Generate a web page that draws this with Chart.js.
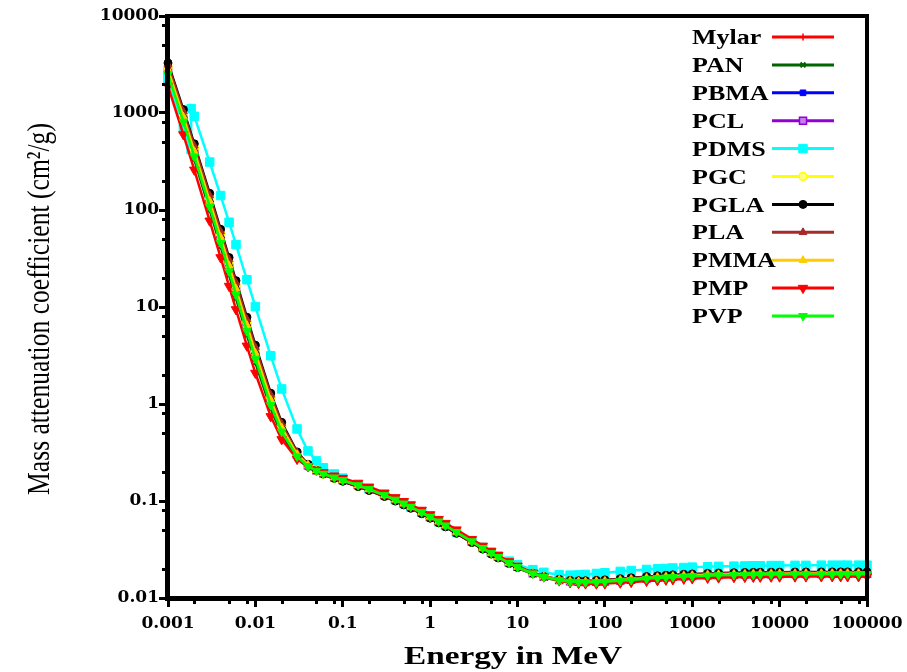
<!DOCTYPE html>
<html>
<head>
<meta charset="utf-8">
<title>Mass attenuation coefficient of polymers</title>
<script src="https://cdn.jsdelivr.net/npm/chart.js@4.4.1/dist/chart.umd.min.js"></script>
<style>
  html, body { margin: 0; padding: 0; background: #fff; }
</style>
</head>
<body>
<canvas id="myChart" width="907" height="672"></canvas>
<script>
// Photon energies (MeV)
const energy = [0.001, 0.0015, 0.002, 0.003, 0.004, 0.005, 0.006, 0.008,
  0.01, 0.015, 0.02, 0.03, 0.04, 0.05, 0.06, 0.08,
  0.1, 0.15, 0.2, 0.3, 0.4, 0.5, 0.6, 0.8,
  1, 1.25, 1.5, 2, 3, 4, 5, 6, 8,
  10, 15, 20, 30, 40, 50, 60, 80,
  100, 150, 200, 300, 400, 500, 600, 800,
  1000, 1500, 2000, 3000, 4000, 5000, 6000, 8000,
  10000, 15000, 20000, 30000, 40000, 50000, 60000, 80000,
  100000];

// PDMS has the Si K edge in it, so it gets its own energy list
const energyPDMS = [0.001, 0.0015, 0.0018389, 0.0018389, 0.002, 0.003, 0.004, 0.005, 0.006, 0.008,
  0.01, 0.015, 0.02, 0.03, 0.04, 0.05, 0.06, 0.08,
  0.1, 0.15, 0.2, 0.3, 0.4, 0.5, 0.6, 0.8,
  1, 1.25, 1.5, 2, 3, 4, 5, 6, 8,
  10, 15, 20, 30, 40, 50, 60, 80,
  100, 150, 200, 300, 400, 500, 600, 800,
  1000, 1500, 2000, 3000, 4000, 5000, 6000, 8000,
  10000, 15000, 20000, 30000, 40000, 50000, 60000, 80000,
  100000];

// mass attenuation coefficients (cm2/g)
const mylar = [2911, 953.5, 420.5, 128.8, 54.65, 27.92, 16.09, 6.749,
  3.481, 1.132, 0.5799, 0.3009, 0.2304, 0.2020, 0.1868, 0.1695,
  0.1586, 0.1402, 0.1279, 0.1110, 0.0994, 0.09075, 0.08391, 0.07369,
  0.06624, 0.05925, 0.05393, 0.04624, 0.0371, 0.03173, 0.02821, 0.02572, 0.02245,
  0.02043, 0.01771, 0.01642, 0.01532, 0.01491, 0.01478, 0.01476, 0.01488,
  0.01505, 0.01546, 0.01579, 0.01625, 0.01656, 0.01678, 0.01694, 0.01716,
  0.01732, 0.01756, 0.01769, 0.01784, 0.01792, 0.01797, 0.018, 0.01804,
  0.01807, 0.01811, 0.01813, 0.01816, 0.01817, 0.01818, 0.01818, 0.01819,
  0.01819];

const pan = [2376, 761.4, 331.5, 99.8, 41.96, 21.30, 12.23, 5.125,
  2.657, 0.8957, 0.4843, 0.2752, 0.2211, 0.1984, 0.1856, 0.1702,
  0.1599, 0.1421, 0.1297, 0.1126, 0.1008, 0.09204, 0.0851, 0.07474,
  0.06718, 0.06009, 0.05469, 0.04689, 0.0375, 0.03208, 0.02846, 0.02591, 0.02253,
  0.02042, 0.0176, 0.01624, 0.01504, 0.01459, 0.01443, 0.01438, 0.01445,
  0.01459, 0.01496, 0.01526, 0.0157, 0.01599, 0.0162, 0.01636, 0.01657,
  0.01671, 0.01694, 0.01708, 0.01721, 0.01729, 0.01734, 0.01737, 0.01741,
  0.01744, 0.01748, 0.0175, 0.01753, 0.01754, 0.01755, 0.01755, 0.01756,
  0.01756];

const pbma = [2528, 822, 361.1, 110.0, 46.55, 23.75, 13.68, 5.749,
  2.981, 0.9959, 0.5300, 0.2935, 0.2327, 0.2077, 0.1937, 0.1772,
  0.1663, 0.1476, 0.1348, 0.1170, 0.1048, 0.09564, 0.08843, 0.07766,
  0.06982, 0.06244, 0.05683, 0.0487, 0.039, 0.03327, 0.0295, 0.02683, 0.02328,
  0.02107, 0.01806, 0.01662, 0.01531, 0.01479, 0.01459, 0.01452, 0.01455,
  0.01467, 0.01501, 0.01528, 0.0157, 0.01599, 0.01619, 0.01635, 0.01655,
  0.01671, 0.01693, 0.01706, 0.0172, 0.01728, 0.01733, 0.01736, 0.0174,
  0.01743, 0.01747, 0.01749, 0.01752, 0.01753, 0.01754, 0.01754, 0.01755,
  0.01755];

const pcl = [2686, 877.3, 386.3, 118.1, 50.06, 25.56, 14.73, 6.189,
  3.204, 1.058, 0.5545, 0.2993, 0.2340, 0.2075, 0.1929, 0.1760,
  0.1650, 0.1462, 0.1335, 0.1158, 0.1037, 0.0947, 0.08756, 0.0769,
  0.06913, 0.06183, 0.05627, 0.04823, 0.0387, 0.03299, 0.02927, 0.02665, 0.02317,
  0.021, 0.01803, 0.01662, 0.01537, 0.01488, 0.01469, 0.01463, 0.01468,
  0.01482, 0.01517, 0.01546, 0.01589, 0.01618, 0.0164, 0.01655, 0.01676,
  0.01691, 0.01714, 0.01728, 0.01742, 0.0175, 0.01755, 0.01758, 0.01762,
  0.01765, 0.01769, 0.01771, 0.01774, 0.01775, 0.01776, 0.01776, 0.01777,
  0.01777];

const pdms = [2280, 700, 420, 1110, 925, 312, 141, 74.8, 44, 19.1,
  10.1, 3.14, 1.43, 0.553, 0.328, 0.259, 0.220, 0.190,
  0.172, 0.147, 0.1335, 0.1150, 0.1030, 0.0940, 0.0869, 0.0763,
  0.0686, 0.0613, 0.0558, 0.0479, 0.0386, 0.0332, 0.0297, 0.0272, 0.0240,
  0.0221, 0.0196, 0.0184, 0.0174, 0.0172, 0.0173, 0.0175, 0.0179,
  0.0182, 0.0188, 0.0192, 0.0197, 0.0200, 0.0202, 0.0204, 0.0206,
  0.0208, 0.0210, 0.0212, 0.0213, 0.0214, 0.0215, 0.0215, 0.0216,
  0.0216, 0.0217, 0.0217, 0.0218, 0.0218, 0.0218, 0.0218, 0.0218,
  0.0218];

const pgc = [2983, 980.8, 433.6, 133.1, 56.59, 28.94, 16.68, 7.005,
  3.614, 1.172, 0.5984, 0.3085, 0.2352, 0.2059, 0.1903, 0.1725,
  0.1614, 0.1425, 0.1301, 0.1129, 0.1011, 0.0923, 0.08534, 0.07494,
  0.06737, 0.06026, 0.05484, 0.04702, 0.0377, 0.03225, 0.02865, 0.02611, 0.02278,
  0.02071, 0.0179, 0.01659, 0.01544, 0.01501, 0.01487, 0.01484, 0.01493,
  0.0151, 0.0155, 0.01582, 0.01627, 0.01657, 0.01679, 0.01696, 0.01718,
  0.01733, 0.01756, 0.01771, 0.01785, 0.01793, 0.01798, 0.01801, 0.01805,
  0.01808, 0.01812, 0.01814, 0.01817, 0.01818, 0.01819, 0.01819, 0.0182,
  0.0182];

const pgla = [3278, 1085, 481.3, 148.5, 63.25, 32.39, 18.69, 7.848,
  4.039, 1.293, 0.6466, 0.3207, 0.2391, 0.2068, 0.1899, 0.1713,
  0.1598, 0.1408, 0.1285, 0.1115, 0.09982, 0.09114, 0.08427, 0.074,
  0.06653, 0.0595, 0.05416, 0.04643, 0.0373, 0.03191, 0.02839, 0.02591, 0.02265,
  0.02065, 0.01792, 0.01666, 0.01557, 0.01518, 0.01507, 0.01506, 0.01519,
  0.01537, 0.0158, 0.01614, 0.01661, 0.01692, 0.01715, 0.01731, 0.01754,
  0.01769, 0.01794, 0.01808, 0.01823, 0.01831, 0.01836, 0.01839, 0.01843,
  0.01846, 0.0185, 0.01852, 0.01855, 0.01856, 0.01857, 0.01857, 0.01858,
  0.01858];

const pla = [3144, 1038, 459.9, 141.6, 60.28, 30.85, 17.80, 7.474,
  3.852, 1.240, 0.6258, 0.3159, 0.2380, 0.2071, 0.1907, 0.1723,
  0.1611, 0.1420, 0.1296, 0.1125, 0.1007, 0.09195, 0.08502, 0.07467,
  0.06712, 0.06004, 0.05464, 0.04684, 0.0376, 0.03216, 0.02858, 0.02606, 0.02275,
  0.02071, 0.01795, 0.01665, 0.01553, 0.01511, 0.01498, 0.01497, 0.01507,
  0.01524, 0.01566, 0.01599, 0.01645, 0.01676, 0.01697, 0.01714, 0.01736,
  0.01751, 0.01776, 0.01789, 0.01805, 0.01813, 0.01818, 0.01821, 0.01825,
  0.01828, 0.01832, 0.01834, 0.01837, 0.01838, 0.01839, 0.01839, 0.0184,
  0.0184];

const pmma = [2796, 916, 404.1, 123.7, 52.52, 26.83, 15.47, 6.499,
  3.360, 1.102, 0.5716, 0.3032, 0.2350, 0.2073, 0.1923, 0.1750,
  0.1640, 0.1451, 0.1325, 0.1150, 0.1030, 0.09401, 0.08693, 0.07634,
  0.06863, 0.06138, 0.05586, 0.04788, 0.0384, 0.03277, 0.02908, 0.02649, 0.02304,
  0.0209, 0.01801, 0.01663, 0.0154, 0.01492, 0.01476, 0.01472, 0.01478,
  0.01492, 0.01529, 0.01559, 0.01603, 0.01632, 0.01653, 0.01669, 0.01691,
  0.01706, 0.01729, 0.01742, 0.01757, 0.01765, 0.0177, 0.01773, 0.01777,
  0.0178, 0.01784, 0.01786, 0.01789, 0.0179, 0.01791, 0.01791, 0.01792,
  0.01792];

const pmp = [1894, 599.9, 259.3, 77.43, 32.42, 16.43, 9.434, 3.974,
  2.087, 0.7451, 0.4316, 0.2707, 0.2275, 0.2084, 0.1969, 0.1823,
  0.1719, 0.1534, 0.1401, 0.1216, 0.1089, 0.09947, 0.09198, 0.08078,
  0.07262, 0.06495, 0.05911, 0.05064, 0.0404, 0.03443, 0.03043, 0.02759, 0.02381,
  0.02143, 0.01819, 0.01658, 0.01509, 0.01446, 0.01419, 0.01406, 0.01401,
  0.01407, 0.01433, 0.01457, 0.01494, 0.01519, 0.01538, 0.01553, 0.01572,
  0.01586, 0.01608, 0.01621, 0.01634, 0.01642, 0.01646, 0.01649, 0.01653,
  0.01656, 0.01659, 0.01661, 0.01664, 0.01665, 0.01666, 0.01666, 0.01667,
  0.01667];

const pvp = [2512, 813.8, 356.5, 108.2, 45.72, 23.29, 13.40, 5.627,
  2.916, 0.9741, 0.5192, 0.2882, 0.2288, 0.2043, 0.1907, 0.1745,
  0.1638, 0.1453, 0.1327, 0.1151, 0.1031, 0.09415, 0.08705, 0.07645,
  0.06873, 0.06147, 0.05594, 0.04795, 0.0384, 0.03277, 0.02907, 0.02645, 0.02297,
  0.02082, 0.0179, 0.01648, 0.01522, 0.01474, 0.01456, 0.0145, 0.01454,
  0.01468, 0.01504, 0.01533, 0.01575, 0.01604, 0.01624, 0.01641, 0.01661,
  0.01676, 0.01699, 0.01712, 0.01726, 0.01734, 0.01739, 0.01742, 0.01746,
  0.01749, 0.01753, 0.01755, 0.01758, 0.01759, 0.0176, 0.0176, 0.01761,
  0.01761];

// axis ticks and titles
const xTickValues = [0.001, 0.01, 0.1, 1, 10, 100, 1000, 10000, 100000];
const xTickLabels = ['0.001', '0.01', '0.1', '1', '10', '100', '1000', '10000', '100000'];
const yTickValues = [0.01, 0.1, 1, 10, 100, 1000, 10000];
const yTickLabels = ['0.01', '0.1', '1', '10', '100', '1000', '10000'];
const xTitle = 'Energy in MeV';
const yTitle = 'Mass attenuation coefficient (cm\u00B2/g)';

function series(label, xs, ys, color, style) {
  return Object.assign({
    label: label,
    data: xs.map((e, i) => ({ x: e, y: ys[i] })),
    borderColor: color,
    backgroundColor: color,
    pointBackgroundColor: color,
    pointBorderColor: color,
    borderWidth: 2.5,
    pointBorderWidth: 1,
    tension: 0,
    clip: 5
  }, style);
}

const datasets = [
  series('Mylar', energy, mylar, '#ff0000', { pointStyle: 'cross', pointRadius: 3.5, pointBorderWidth: 1.5 }),
  series('PAN', energy, pan, '#006400', { pointStyle: 'crossRot', pointRadius: 3.5, pointBorderWidth: 2 }),
  series('PBMA', energy, pbma, '#0000ff', { pointStyle: 'rect', pointRadius: 4 }),
  series('PCL', energy, pcl, '#9400d3', { pointStyle: 'rect', pointRadius: 5, pointBackgroundColor: '#c27ff0', pointBorderWidth: 1.5 }),
  series('PDMS', energyPDMS, pdms, '#00ffff', { pointStyle: 'rect', pointRadius: 6 }),
  series('PGC', energy, pgc, '#ffff00', { pointStyle: 'circle', pointRadius: 4, pointBackgroundColor: '#ffff80', pointBorderWidth: 1.5 }),
  series('PGLA', energy, pgla, '#000000', { pointStyle: 'circle', pointRadius: 4 }),
  series('PLA', energy, pla, '#a52a2a', { pointStyle: 'triangle', pointRadius: 4.5 }),
  series('PMMA', energy, pmma, '#ffcc00', { pointStyle: 'triangle', pointRadius: 4.5 }),
  series('PMP', energy, pmp, '#ff0000', { pointStyle: 'triangle', pointRotation: 180, pointRadius: 5.5 }),
  series('PVP', energy, pvp, '#00ff00', { pointStyle: 'triangle', pointRotation: 180, pointRadius: 5 })
];
// later series sit on top of earlier ones
datasets.forEach((ds, i) => { ds.order = datasets.length - i; });

// minor tick marks at 2, 5 and 8 of every decade
function minorTicks(decades) {
  const out = [];
  decades.slice(0, -1).forEach(d => [2, 5, 8].forEach(m => out.push(d * m)));
  return out;
}

const frame = {
  id: 'frame',
  afterDatasetsDraw(chart) {
    const { ctx, chartArea: a, scales: { x, y } } = chart;
    ctx.save();
    ctx.fillStyle = '#000';
    minorTicks(yTickValues).forEach(v => {
      const py = Math.round(y.getPixelForValue(v));
      ctx.fillRect(a.left - 6, py - 1, 6, 3);
    });
    minorTicks(xTickValues).forEach(v => {
      const px = Math.round(x.getPixelForValue(v));
      ctx.fillRect(px - 1, a.bottom, 3, 6);
    });
    ctx.fillRect(a.left - 3, a.top - 2, 5, a.bottom - a.top + 5);   // left axis
    ctx.fillRect(a.left - 3, a.bottom - 2, a.right - a.left + 5, 5); // bottom axis
    ctx.fillRect(a.left - 3, a.top - 2, a.right - a.left + 5, 4);    // top
    ctx.fillRect(a.right - 2, a.top - 2, 4, a.bottom - a.top + 4);   // right
    ctx.restore();
  }
};

const sideLegend = {
  id: 'sideLegend',
  afterDraw(chart) {
    const ctx = chart.ctx;
    chart.data.datasets.forEach((ds, i) => {
      const rowY = 37 + i * 27.9;
      ctx.save();
      ctx.fillStyle = '#000';
      ctx.font = 'bold 20px "Liberation Serif"';
      ctx.textBaseline = 'middle';
      ctx.translate(692, rowY + 2);
      ctx.scale(1.3, 1);
      ctx.fillText(ds.label, 0, 0);
      ctx.restore();

      ctx.save();
      ctx.strokeStyle = ds.borderColor;
      ctx.lineWidth = 3;
      ctx.beginPath();
      ctx.moveTo(772, rowY);
      ctx.lineTo(834, rowY);
      ctx.stroke();
      ctx.fillStyle = ds.pointBackgroundColor;
      ctx.strokeStyle = ds.pointBorderColor;
      ctx.lineWidth = ds.pointBorderWidth;
      Chart.helpers.drawPoint(ctx, {
        pointStyle: ds.pointStyle,
        rotation: ds.pointRotation || 0,
        radius: ds.pointRadius,
        borderWidth: ds.pointBorderWidth
      }, 803, rowY);
      ctx.restore();
    });
  }
};

const axisTitles = {
  id: 'axisTitles',
  afterDraw(chart) {
    const ctx = chart.ctx;
    ctx.save();
    ctx.fillStyle = '#000';
    ctx.font = 'bold 26px "Liberation Serif"';
    ctx.textAlign = 'center';
    ctx.textBaseline = 'alphabetic';
    ctx.translate(513, 664);
    ctx.scale(1.28, 1);
    ctx.fillText(xTitle, 0, 0);
    ctx.restore();

    ctx.save();
    ctx.fillStyle = '#000';
    ctx.font = '32px "Liberation Serif"';
    ctx.textAlign = 'center';
    ctx.textBaseline = 'alphabetic';
    ctx.translate(49, 309);
    ctx.rotate(-Math.PI / 2);
    ctx.scale(0.8, 1);
    ctx.fillText(yTitle, 0, 0);
    ctx.restore();
  }
};

const tickFont = { family: 'DejaVu Serif', weight: 'bold', size: 17 };

new Chart(document.getElementById('myChart').getContext('2d'), {
  type: 'line',
  data: { datasets: datasets },
  plugins: [frame, sideLegend, axisTitles],
  options: {
    responsive: false,
    animation: false,
    devicePixelRatio: 1,
    layout: { padding: { top: 16, right: 40, bottom: 0, left: 0 } },
    plugins: { legend: { display: false }, tooltip: { enabled: false } },
    scales: {
      x: {
        type: 'logarithmic',
        min: 0.001,
        max: 100000,
        afterBuildTicks(scale) { scale.ticks = xTickValues.map(v => ({ value: v })); },
        afterFit(scale) { scale.height = 74; scale.paddingLeft = 0; scale.paddingRight = 0; },
        border: { display: false },
        grid: { drawOnChartArea: false, drawTicks: true, tickLength: 9, tickWidth: 3, tickColor: '#000' },
        ticks: {
          autoSkip: false, maxRotation: 0, minRotation: 0, padding: 6,
          color: '#000', font: tickFont,
          callback: (v, i) => xTickLabels[i]
        }
      },
      y: {
        type: 'logarithmic',
        min: 0.01,
        max: 10000,
        afterBuildTicks(scale) { scale.ticks = yTickValues.map(v => ({ value: v })); },
        afterFit(scale) { scale.width = 168; scale.paddingTop = 0; scale.paddingBottom = 0; },
        border: { display: false },
        grid: { drawOnChartArea: false, drawTicks: true, tickLength: 9, tickWidth: 3, tickColor: '#000' },
        ticks: {
          autoSkip: false, padding: 0,
          color: '#000', font: tickFont,
          callback: (v, i) => yTickLabels[i]
        }
      }
    }
  }
});
</script>
</body>
</html>
